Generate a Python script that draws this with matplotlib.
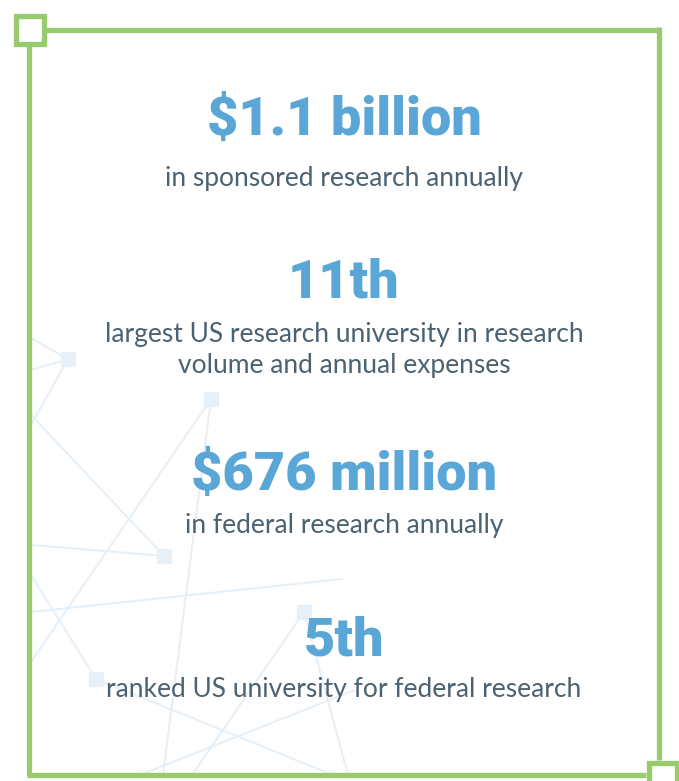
import matplotlib
matplotlib.use("Agg")
import matplotlib.pyplot as plt
from matplotlib.patches import Rectangle

# 통계 수치와 설명
stats = ["$1.1 billion", "11th", "$676 million", "5th"]
captions = [
    "in sponsored research annually",
    "largest US research university in research\nvolume and annual expenses",
    "in federal research annually",
    "ranked US university for federal research",
]

# 배경 네트워크 장식 (노드, 연결선)
nodes = [(68, 359), (211, 399), (164, 556), (304, 612), (96, 679)]
links = [
    ((31, 338), (68, 359)), ((31, 370), (68, 359)), ((68, 359), (31, 425)),
    ((31, 415), (164, 556)), ((31, 545), (164, 556)),
    ((211, 399), (31, 662)), ((211, 399), (163, 775)),
    ((31, 612), (342, 579)), ((31, 575), (96, 679)),
    ((96, 679), (333, 775)), ((140, 775), (355, 690)),
    ((304, 612), (192, 775)), ((304, 612), (348, 775)),
]

W, H = 679, 781
BLUE = "#5aa6d6"
GREY = "#4a6272"
GREEN = "#98ca6e"
NET = "#e5eff8"

fig = plt.figure(figsize=(W / 100, H / 100), dpi=100)
ax = fig.add_axes([0, 0, 1, 1])
ax.set_xlim(0, W)
ax.set_ylim(H, 0)
ax.axis("off")

# 네트워크
for (x0, y0), (x1, y1) in links:
    ax.plot([x0, x1], [y0, y1], color=NET, lw=1.4, zorder=1, solid_capstyle="butt")
for x, y in nodes:
    ax.add_patch(Rectangle((x - 7, y - 7), 14, 14, color="#e6f0f8", zorder=2))

# 프레임
lw = 3.8
ax.plot([29, 29], [45, 775], color=GREEN, lw=lw, zorder=3, solid_capstyle="butt")
ax.plot([45, 659], [29.5, 29.5], color=GREEN, lw=lw, zorder=3, solid_capstyle="butt")
ax.plot([659, 659], [27, 760], color=GREEN, lw=lw, zorder=3, solid_capstyle="butt")
ax.plot([27, 646], [775, 775], color=GREEN, lw=lw, zorder=3, solid_capstyle="butt")
ax.add_patch(Rectangle((15.5, 15.5), 28, 28, facecolor="white", edgecolor=GREEN,
                       lw=lw, zorder=4))
ax.add_patch(Rectangle((648.5, 762.5), 28, 28, facecolor="white", edgecolor=GREEN,
                       lw=lw, zorder=4))

# 텍스트
stat_base = [135, 297, 490, 655]
cap_base = [186, 342, 533, 697]
cx = 344
for s, c, sy, cy in zip(stats, captions, stat_base, cap_base):
    ax.text(cx, sy, s, ha="center", va="baseline", fontsize=39,
            fontweight="heavy", family="Roboto", color=BLUE, zorder=5)
    lines = c.split("\n")
    for i, ln in enumerate(lines):
        ax.text(cx, cy + i * 31, ln, ha="center", va="baseline", fontsize=19,
                family="Lato", color=GREY, zorder=5)

fig.savefig("out.png", dpi=100, facecolor="white")
